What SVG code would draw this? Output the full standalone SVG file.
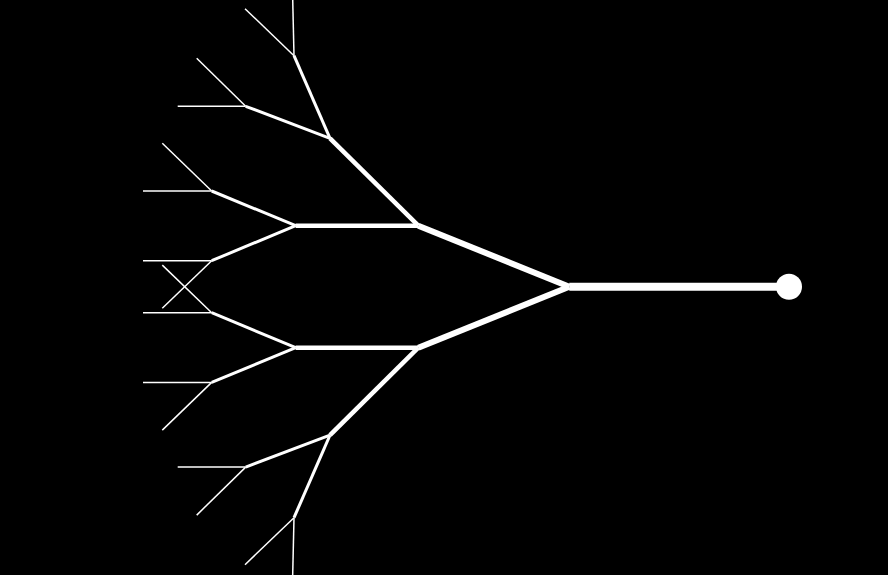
<svg xmlns="http://www.w3.org/2000/svg" width="888" height="575" viewBox="0 0 888 575">
<style>
.b{stroke:#fff;fill:none;stroke-linecap:butt;stroke-linejoin:miter}
.w0{stroke-width:8}
.w1{stroke-width:6}
.w2{stroke-width:4.5}
.w3{stroke-width:3}
.w4{stroke-width:1.5}
</style>
<rect width="888" height="575" fill="#000"/>
<g id="connectors">
<line class="b w0" x1="789" y1="286.7" x2="569.3" y2="286.7"/>
<line class="b w1" x1="569.3" y1="286.7" x2="418.3" y2="225.7"/>
<line class="b w1" x1="569.3" y1="286.7" x2="418.3" y2="347.7"/>
<line class="b w2" x1="418.3" y1="225.7" x2="330" y2="138.3"/>
<line class="b w2" x1="418.3" y1="225.7" x2="295.7" y2="225.7"/>
<line class="b w2" x1="418.3" y1="347.7" x2="295.7" y2="347.7"/>
<line class="b w2" x1="418.3" y1="347.7" x2="330" y2="435.1"/>
<line class="b w3" x1="330" y1="138.3" x2="294" y2="55.7"/>
<line class="b w3" x1="330" y1="138.3" x2="245.7" y2="106.3"/>
<line class="b w3" x1="295.7" y1="225.7" x2="211.7" y2="191"/>
<line class="b w3" x1="295.7" y1="225.7" x2="211.7" y2="260.7"/>
<line class="b w3" x1="295.7" y1="347.7" x2="211.7" y2="312.7"/>
<line class="b w3" x1="295.7" y1="347.7" x2="211.7" y2="382.4"/>
<line class="b w3" x1="330" y1="435.1" x2="245.7" y2="467.1"/>
<line class="b w3" x1="330" y1="435.1" x2="294" y2="517.7"/>
<line class="b w4" x1="294" y1="55.7" x2="292.4" y2="-14"/>
<line class="b w4" x1="294" y1="55.7" x2="245" y2="8.7"/>
<line class="b w4" x1="245.7" y1="106.3" x2="196.7" y2="58.3"/>
<line class="b w4" x1="245.7" y1="106.3" x2="177.7" y2="106.3"/>
<line class="b w4" x1="211.7" y1="191" x2="162.3" y2="143.3"/>
<line class="b w4" x1="211.7" y1="191" x2="143" y2="191"/>
<line class="b w4" x1="211.7" y1="260.7" x2="143" y2="260.7"/>
<line class="b w4" x1="211.7" y1="260.7" x2="162.3" y2="308.3"/>
<line class="b w4" x1="211.7" y1="312.7" x2="162.3" y2="265.1"/>
<line class="b w4" x1="211.7" y1="312.7" x2="143" y2="312.7"/>
<line class="b w4" x1="211.7" y1="382.4" x2="143" y2="382.4"/>
<line class="b w4" x1="211.7" y1="382.4" x2="162.3" y2="430.1"/>
<line class="b w4" x1="245.7" y1="467.1" x2="177.7" y2="467.1"/>
<line class="b w4" x1="245.7" y1="467.1" x2="196.7" y2="515.1"/>
<line class="b w4" x1="294" y1="517.7" x2="245" y2="564.7"/>
<line class="b w4" x1="294" y1="517.7" x2="292.4" y2="588"/>
</g>
<g id="root">
<circle cx="789" cy="286.7" r="13" fill="#fff"/>
</g>
</svg>
